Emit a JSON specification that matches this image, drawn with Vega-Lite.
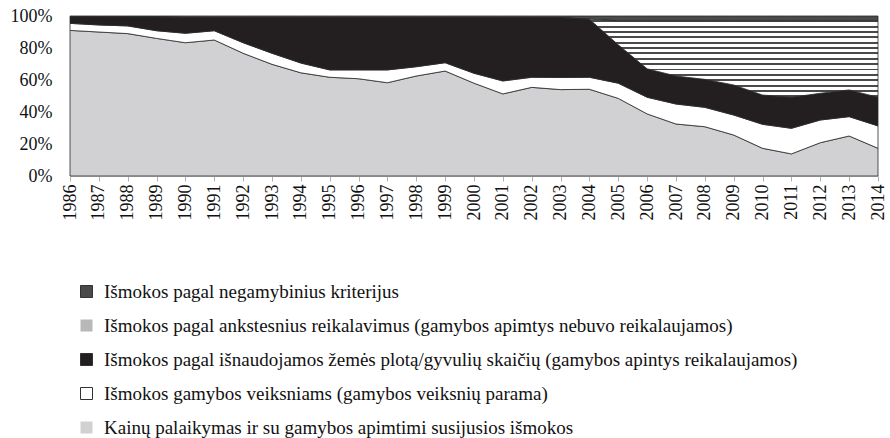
{
  "$schema": "https://vega.github.io/schema/vega-lite/v6.json",
  "width": 808,
  "height": 160,
  "autosize": {"type": "none"},
  "padding": {"left": 70, "top": 16, "right": 12, "bottom": 262},
  "background": "white",
  "config": {"view": {"stroke": null}, "font": "Liberation Serif"},
  "data": {"values": [
    {"year": 1986, "series": "Kainų palaikymas ir su gamybos apimtimi susijusios išmokos", "value": 91},
    {"year": 1986, "series": "Išmokos gamybos veiksniams (gamybos veiksnių parama)", "value": 4.4},
    {"year": 1986, "series": "Išmokos pagal išnaudojamos žemės plotą/gyvulių skaičių (gamybos apintys reikalaujamos)", "value": 4.1},
    {"year": 1986, "series": "Išmokos pagal ankstesnius reikalavimus (gamybos apimtys nebuvo reikalaujamos)", "value": 0},
    {"year": 1986, "series": "Išmokos pagal negamybinius kriterijus", "value": 0.5},
    {"year": 1987, "series": "Kainų palaikymas ir su gamybos apimtimi susijusios išmokos", "value": 90},
    {"year": 1987, "series": "Išmokos gamybos veiksniams (gamybos veiksnių parama)", "value": 4.4},
    {"year": 1987, "series": "Išmokos pagal išnaudojamos žemės plotą/gyvulių skaičių (gamybos apintys reikalaujamos)", "value": 5.1},
    {"year": 1987, "series": "Išmokos pagal ankstesnius reikalavimus (gamybos apimtys nebuvo reikalaujamos)", "value": 0},
    {"year": 1987, "series": "Išmokos pagal negamybinius kriterijus", "value": 0.5},
    {"year": 1988, "series": "Kainų palaikymas ir su gamybos apimtimi susijusios išmokos", "value": 89},
    {"year": 1988, "series": "Išmokos gamybos veiksniams (gamybos veiksnių parama)", "value": 4.8},
    {"year": 1988, "series": "Išmokos pagal išnaudojamos žemės plotą/gyvulių skaičių (gamybos apintys reikalaujamos)", "value": 5.7},
    {"year": 1988, "series": "Išmokos pagal ankstesnius reikalavimus (gamybos apimtys nebuvo reikalaujamos)", "value": 0},
    {"year": 1988, "series": "Išmokos pagal negamybinius kriterijus", "value": 0.5},
    {"year": 1989, "series": "Kainų palaikymas ir su gamybos apimtimi susijusios išmokos", "value": 86},
    {"year": 1989, "series": "Išmokos gamybos veiksniams (gamybos veiksnių parama)", "value": 4.8},
    {"year": 1989, "series": "Išmokos pagal išnaudojamos žemės plotą/gyvulių skaičių (gamybos apintys reikalaujamos)", "value": 8.7},
    {"year": 1989, "series": "Išmokos pagal ankstesnius reikalavimus (gamybos apimtys nebuvo reikalaujamos)", "value": 0},
    {"year": 1989, "series": "Išmokos pagal negamybinius kriterijus", "value": 0.5},
    {"year": 1990, "series": "Kainų palaikymas ir su gamybos apimtimi susijusios išmokos", "value": 83.3},
    {"year": 1990, "series": "Išmokos gamybos veiksniams (gamybos veiksnių parama)", "value": 5.9},
    {"year": 1990, "series": "Išmokos pagal išnaudojamos žemės plotą/gyvulių skaičių (gamybos apintys reikalaujamos)", "value": 9.8},
    {"year": 1990, "series": "Išmokos pagal ankstesnius reikalavimus (gamybos apimtys nebuvo reikalaujamos)", "value": 0},
    {"year": 1990, "series": "Išmokos pagal negamybinius kriterijus", "value": 1},
    {"year": 1991, "series": "Kainų palaikymas ir su gamybos apimtimi susijusios išmokos", "value": 85},
    {"year": 1991, "series": "Išmokos gamybos veiksniams (gamybos veiksnių parama)", "value": 5.8},
    {"year": 1991, "series": "Išmokos pagal išnaudojamos žemės plotą/gyvulių skaičių (gamybos apintys reikalaujamos)", "value": 8.2},
    {"year": 1991, "series": "Išmokos pagal ankstesnius reikalavimus (gamybos apimtys nebuvo reikalaujamos)", "value": 0},
    {"year": 1991, "series": "Išmokos pagal negamybinius kriterijus", "value": 1},
    {"year": 1992, "series": "Kainų palaikymas ir su gamybos apimtimi susijusios išmokos", "value": 76.7},
    {"year": 1992, "series": "Išmokos gamybos veiksniams (gamybos veiksnių parama)", "value": 6.6},
    {"year": 1992, "series": "Išmokos pagal išnaudojamos žemės plotą/gyvulių skaičių (gamybos apintys reikalaujamos)", "value": 15.7},
    {"year": 1992, "series": "Išmokos pagal ankstesnius reikalavimus (gamybos apimtys nebuvo reikalaujamos)", "value": 0},
    {"year": 1992, "series": "Išmokos pagal negamybinius kriterijus", "value": 1},
    {"year": 1993, "series": "Kainų palaikymas ir su gamybos apimtimi susijusios išmokos", "value": 69.8},
    {"year": 1993, "series": "Išmokos gamybos veiksniams (gamybos veiksnių parama)", "value": 6.9},
    {"year": 1993, "series": "Išmokos pagal išnaudojamos žemės plotą/gyvulių skaičių (gamybos apintys reikalaujamos)", "value": 22.3},
    {"year": 1993, "series": "Išmokos pagal ankstesnius reikalavimus (gamybos apimtys nebuvo reikalaujamos)", "value": 0},
    {"year": 1993, "series": "Išmokos pagal negamybinius kriterijus", "value": 1},
    {"year": 1994, "series": "Kainų palaikymas ir su gamybos apimtimi susijusios išmokos", "value": 64.5},
    {"year": 1994, "series": "Išmokos gamybos veiksniams (gamybos veiksnių parama)", "value": 6.1},
    {"year": 1994, "series": "Išmokos pagal išnaudojamos žemės plotą/gyvulių skaičių (gamybos apintys reikalaujamos)", "value": 28.4},
    {"year": 1994, "series": "Išmokos pagal ankstesnius reikalavimus (gamybos apimtys nebuvo reikalaujamos)", "value": 0},
    {"year": 1994, "series": "Išmokos pagal negamybinius kriterijus", "value": 1},
    {"year": 1995, "series": "Kainų palaikymas ir su gamybos apimtimi susijusios išmokos", "value": 61.7},
    {"year": 1995, "series": "Išmokos gamybos veiksniams (gamybos veiksnių parama)", "value": 4.6},
    {"year": 1995, "series": "Išmokos pagal išnaudojamos žemės plotą/gyvulių skaičių (gamybos apintys reikalaujamos)", "value": 32.7},
    {"year": 1995, "series": "Išmokos pagal ankstesnius reikalavimus (gamybos apimtys nebuvo reikalaujamos)", "value": 0},
    {"year": 1995, "series": "Išmokos pagal negamybinius kriterijus", "value": 1},
    {"year": 1996, "series": "Kainų palaikymas ir su gamybos apimtimi susijusios išmokos", "value": 60.8},
    {"year": 1996, "series": "Išmokos gamybos veiksniams (gamybos veiksnių parama)", "value": 5.5},
    {"year": 1996, "series": "Išmokos pagal išnaudojamos žemės plotą/gyvulių skaičių (gamybos apintys reikalaujamos)", "value": 32.7},
    {"year": 1996, "series": "Išmokos pagal ankstesnius reikalavimus (gamybos apimtys nebuvo reikalaujamos)", "value": 0},
    {"year": 1996, "series": "Išmokos pagal negamybinius kriterijus", "value": 1},
    {"year": 1997, "series": "Kainų palaikymas ir su gamybos apimtimi susijusios išmokos", "value": 58.3},
    {"year": 1997, "series": "Išmokos gamybos veiksniams (gamybos veiksnių parama)", "value": 8.0},
    {"year": 1997, "series": "Išmokos pagal išnaudojamos žemės plotą/gyvulių skaičių (gamybos apintys reikalaujamos)", "value": 32.7},
    {"year": 1997, "series": "Išmokos pagal ankstesnius reikalavimus (gamybos apimtys nebuvo reikalaujamos)", "value": 0},
    {"year": 1997, "series": "Išmokos pagal negamybinius kriterijus", "value": 1},
    {"year": 1998, "series": "Kainų palaikymas ir su gamybos apimtimi susijusios išmokos", "value": 62.5},
    {"year": 1998, "series": "Išmokos gamybos veiksniams (gamybos veiksnių parama)", "value": 5.8},
    {"year": 1998, "series": "Išmokos pagal išnaudojamos žemės plotą/gyvulių skaičių (gamybos apintys reikalaujamos)", "value": 30.7},
    {"year": 1998, "series": "Išmokos pagal ankstesnius reikalavimus (gamybos apimtys nebuvo reikalaujamos)", "value": 0},
    {"year": 1998, "series": "Išmokos pagal negamybinius kriterijus", "value": 1},
    {"year": 1999, "series": "Kainų palaikymas ir su gamybos apimtimi susijusios išmokos", "value": 65.6},
    {"year": 1999, "series": "Išmokos gamybos veiksniams (gamybos veiksnių parama)", "value": 5.2},
    {"year": 1999, "series": "Išmokos pagal išnaudojamos žemės plotą/gyvulių skaičių (gamybos apintys reikalaujamos)", "value": 28.2},
    {"year": 1999, "series": "Išmokos pagal ankstesnius reikalavimus (gamybos apimtys nebuvo reikalaujamos)", "value": 0},
    {"year": 1999, "series": "Išmokos pagal negamybinius kriterijus", "value": 1},
    {"year": 2000, "series": "Kainų palaikymas ir su gamybos apimtimi susijusios išmokos", "value": 58},
    {"year": 2000, "series": "Išmokos gamybos veiksniams (gamybos veiksnių parama)", "value": 6.2},
    {"year": 2000, "series": "Išmokos pagal išnaudojamos žemės plotą/gyvulių skaičių (gamybos apintys reikalaujamos)", "value": 34.8},
    {"year": 2000, "series": "Išmokos pagal ankstesnius reikalavimus (gamybos apimtys nebuvo reikalaujamos)", "value": 0},
    {"year": 2000, "series": "Išmokos pagal negamybinius kriterijus", "value": 1},
    {"year": 2001, "series": "Kainų palaikymas ir su gamybos apimtimi susijusios išmokos", "value": 51.3},
    {"year": 2001, "series": "Išmokos gamybos veiksniams (gamybos veiksnių parama)", "value": 8.1},
    {"year": 2001, "series": "Išmokos pagal išnaudojamos žemės plotą/gyvulių skaičių (gamybos apintys reikalaujamos)", "value": 39.6},
    {"year": 2001, "series": "Išmokos pagal ankstesnius reikalavimus (gamybos apimtys nebuvo reikalaujamos)", "value": 0},
    {"year": 2001, "series": "Išmokos pagal negamybinius kriterijus", "value": 1},
    {"year": 2002, "series": "Kainų palaikymas ir su gamybos apimtimi susijusios išmokos", "value": 55.4},
    {"year": 2002, "series": "Išmokos gamybos veiksniams (gamybos veiksnių parama)", "value": 6.3},
    {"year": 2002, "series": "Išmokos pagal išnaudojamos žemės plotą/gyvulių skaičių (gamybos apintys reikalaujamos)", "value": 37.3},
    {"year": 2002, "series": "Išmokos pagal ankstesnius reikalavimus (gamybos apimtys nebuvo reikalaujamos)", "value": 0},
    {"year": 2002, "series": "Išmokos pagal negamybinius kriterijus", "value": 1},
    {"year": 2003, "series": "Kainų palaikymas ir su gamybos apimtimi susijusios išmokos", "value": 54},
    {"year": 2003, "series": "Išmokos gamybos veiksniams (gamybos veiksnių parama)", "value": 7.6},
    {"year": 2003, "series": "Išmokos pagal išnaudojamos žemės plotą/gyvulių skaičių (gamybos apintys reikalaujamos)", "value": 37.4},
    {"year": 2003, "series": "Išmokos pagal ankstesnius reikalavimus (gamybos apimtys nebuvo reikalaujamos)", "value": 0},
    {"year": 2003, "series": "Išmokos pagal negamybinius kriterijus", "value": 1},
    {"year": 2004, "series": "Kainų palaikymas ir su gamybos apimtimi susijusios išmokos", "value": 54.2},
    {"year": 2004, "series": "Išmokos gamybos veiksniams (gamybos veiksnių parama)", "value": 7.5},
    {"year": 2004, "series": "Išmokos pagal išnaudojamos žemės plotą/gyvulių skaičių (gamybos apintys reikalaujamos)", "value": 36.3},
    {"year": 2004, "series": "Išmokos pagal ankstesnius reikalavimus (gamybos apimtys nebuvo reikalaujamos)", "value": 0},
    {"year": 2004, "series": "Išmokos pagal negamybinius kriterijus", "value": 2},
    {"year": 2005, "series": "Kainų palaikymas ir su gamybos apimtimi susijusios išmokos", "value": 48.5},
    {"year": 2005, "series": "Išmokos gamybos veiksniams (gamybos veiksnių parama)", "value": 9.5},
    {"year": 2005, "series": "Išmokos pagal išnaudojamos žemės plotą/gyvulių skaičių (gamybos apintys reikalaujamos)", "value": 24},
    {"year": 2005, "series": "Išmokos pagal ankstesnius reikalavimus (gamybos apimtys nebuvo reikalaujamos)", "value": 15},
    {"year": 2005, "series": "Išmokos pagal negamybinius kriterijus", "value": 3},
    {"year": 2006, "series": "Kainų palaikymas ir su gamybos apimtimi susijusios išmokos", "value": 38.8},
    {"year": 2006, "series": "Išmokos gamybos veiksniams (gamybos veiksnių parama)", "value": 10.4},
    {"year": 2006, "series": "Išmokos pagal išnaudojamos žemės plotą/gyvulių skaičių (gamybos apintys reikalaujamos)", "value": 17.8},
    {"year": 2006, "series": "Išmokos pagal ankstesnius reikalavimus (gamybos apimtys nebuvo reikalaujamos)", "value": 30},
    {"year": 2006, "series": "Išmokos pagal negamybinius kriterijus", "value": 3},
    {"year": 2007, "series": "Kainų palaikymas ir su gamybos apimtimi susijusios išmokos", "value": 32.5},
    {"year": 2007, "series": "Išmokos gamybos veiksniams (gamybos veiksnių parama)", "value": 12.5},
    {"year": 2007, "series": "Išmokos pagal išnaudojamos žemės plotą/gyvulių skaičių (gamybos apintys reikalaujamos)", "value": 17.5},
    {"year": 2007, "series": "Išmokos pagal ankstesnius reikalavimus (gamybos apimtys nebuvo reikalaujamos)", "value": 34.5},
    {"year": 2007, "series": "Išmokos pagal negamybinius kriterijus", "value": 3},
    {"year": 2008, "series": "Kainų palaikymas ir su gamybos apimtimi susijusios išmokos", "value": 30.8},
    {"year": 2008, "series": "Išmokos gamybos veiksniams (gamybos veiksnių parama)", "value": 12.1},
    {"year": 2008, "series": "Išmokos pagal išnaudojamos žemės plotą/gyvulių skaičių (gamybos apintys reikalaujamos)", "value": 17.5},
    {"year": 2008, "series": "Išmokos pagal ankstesnius reikalavimus (gamybos apimtys nebuvo reikalaujamos)", "value": 36.6},
    {"year": 2008, "series": "Išmokos pagal negamybinius kriterijus", "value": 3},
    {"year": 2009, "series": "Kainų palaikymas ir su gamybos apimtimi susijusios išmokos", "value": 25.6},
    {"year": 2009, "series": "Išmokos gamybos veiksniams (gamybos veiksnių parama)", "value": 12.5},
    {"year": 2009, "series": "Išmokos pagal išnaudojamos žemės plotą/gyvulių skaičių (gamybos apintys reikalaujamos)", "value": 18.8},
    {"year": 2009, "series": "Išmokos pagal ankstesnius reikalavimus (gamybos apimtys nebuvo reikalaujamos)", "value": 40.1},
    {"year": 2009, "series": "Išmokos pagal negamybinius kriterijus", "value": 3},
    {"year": 2010, "series": "Kainų palaikymas ir su gamybos apimtimi susijusios išmokos", "value": 17.3},
    {"year": 2010, "series": "Išmokos gamybos veiksniams (gamybos veiksnių parama)", "value": 15},
    {"year": 2010, "series": "Išmokos pagal išnaudojamos žemės plotą/gyvulių skaičių (gamybos apintys reikalaujamos)", "value": 18.3},
    {"year": 2010, "series": "Išmokos pagal ankstesnius reikalavimus (gamybos apimtys nebuvo reikalaujamos)", "value": 46.4},
    {"year": 2010, "series": "Išmokos pagal negamybinius kriterijus", "value": 3},
    {"year": 2011, "series": "Kainų palaikymas ir su gamybos apimtimi susijusios išmokos", "value": 13.8},
    {"year": 2011, "series": "Išmokos gamybos veiksniams (gamybos veiksnių parama)", "value": 16},
    {"year": 2011, "series": "Išmokos pagal išnaudojamos žemės plotą/gyvulių skaičių (gamybos apintys reikalaujamos)", "value": 19.4},
    {"year": 2011, "series": "Išmokos pagal ankstesnius reikalavimus (gamybos apimtys nebuvo reikalaujamos)", "value": 47.8},
    {"year": 2011, "series": "Išmokos pagal negamybinius kriterijus", "value": 3},
    {"year": 2012, "series": "Kainų palaikymas ir su gamybos apimtimi susijusios išmokos", "value": 20.8},
    {"year": 2012, "series": "Išmokos gamybos veiksniams (gamybos veiksnių parama)", "value": 14.2},
    {"year": 2012, "series": "Išmokos pagal išnaudojamos žemės plotą/gyvulių skaičių (gamybos apintys reikalaujamos)", "value": 16.7},
    {"year": 2012, "series": "Išmokos pagal ankstesnius reikalavimus (gamybos apimtys nebuvo reikalaujamos)", "value": 45.3},
    {"year": 2012, "series": "Išmokos pagal negamybinius kriterijus", "value": 3},
    {"year": 2013, "series": "Kainų palaikymas ir su gamybos apimtimi susijusios išmokos", "value": 25},
    {"year": 2013, "series": "Išmokos gamybos veiksniams (gamybos veiksnių parama)", "value": 12.1},
    {"year": 2013, "series": "Išmokos pagal išnaudojamos žemės plotą/gyvulių skaičių (gamybos apintys reikalaujamos)", "value": 16.7},
    {"year": 2013, "series": "Išmokos pagal ankstesnius reikalavimus (gamybos apimtys nebuvo reikalaujamos)", "value": 43.2},
    {"year": 2013, "series": "Išmokos pagal negamybinius kriterijus", "value": 3},
    {"year": 2014, "series": "Kainų palaikymas ir su gamybos apimtimi susijusios išmokos", "value": 17.3},
    {"year": 2014, "series": "Išmokos gamybos veiksniams (gamybos veiksnių parama)", "value": 14},
    {"year": 2014, "series": "Išmokos pagal išnaudojamos žemės plotą/gyvulių skaičių (gamybos apintys reikalaujamos)", "value": 17.9},
    {"year": 2014, "series": "Išmokos pagal ankstesnius reikalavimus (gamybos apimtys nebuvo reikalaujamos)", "value": 47.8},
    {"year": 2014, "series": "Išmokos pagal negamybinius kriterijus", "value": 3}
  ]},
  "transform": [
    {"calculate": "indexof(['Kainų palaikymas ir su gamybos apimtimi susijusios išmokos', 'Išmokos gamybos veiksniams (gamybos veiksnių parama)', 'Išmokos pagal išnaudojamos žemės plotą/gyvulių skaičių (gamybos apintys reikalaujamos)', 'Išmokos pagal ankstesnius reikalavimus (gamybos apimtys nebuvo reikalaujamos)', 'Išmokos pagal negamybinius kriterijus'], datum.series)", "as": "rank"},
    {"stack": "value", "groupby": ["year"], "sort": [{"field": "rank", "order": "ascending"}], "offset": "normalize", "as": ["v0", "v1"]}
  ],
  "encoding": {
    "x": {
      "field": "year", "type": "ordinal",
      "scale": {"type": "point", "padding": 0},
      "axis": {
        "title": null, "labelAngle": -90, "labelAlign": "right", "labelBaseline": "middle",
        "labelFont": "Liberation Serif", "labelFontSize": 18, "labelColor": "#111",
        "labelPadding": 3, "tickSize": 5, "tickColor": "#b0b0b0", "domainColor": "#c8c8c8", "grid": false
      }
    },
    "y": {
      "field": "v1", "type": "quantitative",
      "scale": {"domain": [0, 1]},
      "axis": {
        "title": null, "format": ".0%", "values": [0, 0.2, 0.4, 0.6, 0.8, 1],
        "labelFont": "Liberation Serif", "labelFontSize": 18, "labelColor": "#111",
        "labelPadding": 18, "ticks": false, "domain": false, "grid": false
      }
    },
    "y2": {"field": "v0"}
  },
  "layer": [
    {
      "transform": [{"filter": "datum.rank != 3"}],
      "mark": {"type": "area", "stroke": "#2a2a2a", "strokeWidth": 0.8, "opacity": 1},
      "encoding": {
        "color": {
          "field": "series", "type": "nominal",
          "scale": {
            "domain": [
              "Kainų palaikymas ir su gamybos apimtimi susijusios išmokos",
              "Išmokos gamybos veiksniams (gamybos veiksnių parama)",
              "Išmokos pagal išnaudojamos žemės plotą/gyvulių skaičių (gamybos apintys reikalaujamos)",
              "Išmokos pagal ankstesnius reikalavimus (gamybos apimtys nebuvo reikalaujamos)",
              "Išmokos pagal negamybinius kriterijus"
            ],
            "range": ["#d1d1d3", "#ffffff", "#231f20", "#b8b8b8", "#4a4a4a"]
          },
          "legend": {
            "title": null, "orient": "none", "legendX": 7, "legendY": 266, "direction": "vertical",
            "values": [
              "Išmokos pagal negamybinius kriterijus",
              "Išmokos pagal ankstesnius reikalavimus (gamybos apimtys nebuvo reikalaujamos)",
              "Išmokos pagal išnaudojamos žemės plotą/gyvulių skaičių (gamybos apintys reikalaujamos)",
              "Išmokos gamybos veiksniams (gamybos veiksnių parama)",
              "Kainų palaikymas ir su gamybos apimtimi susijusios išmokos"
            ],
            "symbolType": "square", "symbolSize": 144, "symbolStrokeColor": "#333", "symbolStrokeWidth": 1,
            "symbolOpacity": 1,
            "labelFont": "Liberation Serif", "labelFontSize": 19, "labelColor": "#111", "labelLimit": 0,
            "labelOffset": 8, "rowPadding": 14,
            "encode": {
              "symbols": {
                "update": {
                  "stroke": [
                    {"test": "datum.value === 'Išmokos pagal ankstesnius reikalavimus (gamybos apimtys nebuvo reikalaujamos)' || datum.value === 'Kainų palaikymas ir su gamybos apimtimi susijusios išmokos'", "value": "transparent"},
                    {"value": "#333333"}
                  ]
                }
              }
            }
          }
        }
      }
    },
    {
      "transform": [{"filter": "datum.rank == 3"}],
      "mark": {
        "type": "area", "stroke": "#2a2a2a", "strokeWidth": 0.8, "opacity": 1,
        "fill": {"gradient": "linear", "x1": 0, "y1": 0, "x2": 0, "y2": 1, "stops": [
          {"offset": 0, "color": "#ffffff"}, {"offset": 0.0433, "color": "#ffffff"}, {"offset": 0.0433, "color": "#4a4a4a"}, {"offset": 0.0667, "color": "#4a4a4a"},
          {"offset": 0.0667, "color": "#ffffff"}, {"offset": 0.11, "color": "#ffffff"}, {"offset": 0.11, "color": "#4a4a4a"}, {"offset": 0.1333, "color": "#4a4a4a"},
          {"offset": 0.1333, "color": "#ffffff"}, {"offset": 0.1767, "color": "#ffffff"}, {"offset": 0.1767, "color": "#4a4a4a"}, {"offset": 0.2, "color": "#4a4a4a"},
          {"offset": 0.2, "color": "#ffffff"}, {"offset": 0.2433, "color": "#ffffff"}, {"offset": 0.2433, "color": "#4a4a4a"}, {"offset": 0.2667, "color": "#4a4a4a"},
          {"offset": 0.2667, "color": "#ffffff"}, {"offset": 0.31, "color": "#ffffff"}, {"offset": 0.31, "color": "#4a4a4a"}, {"offset": 0.3333, "color": "#4a4a4a"},
          {"offset": 0.3333, "color": "#ffffff"}, {"offset": 0.3767, "color": "#ffffff"}, {"offset": 0.3767, "color": "#4a4a4a"}, {"offset": 0.4, "color": "#4a4a4a"},
          {"offset": 0.4, "color": "#ffffff"}, {"offset": 0.4433, "color": "#ffffff"}, {"offset": 0.4433, "color": "#4a4a4a"}, {"offset": 0.4667, "color": "#4a4a4a"},
          {"offset": 0.4667, "color": "#ffffff"}, {"offset": 0.51, "color": "#ffffff"}, {"offset": 0.51, "color": "#4a4a4a"}, {"offset": 0.5333, "color": "#4a4a4a"},
          {"offset": 0.5333, "color": "#ffffff"}, {"offset": 0.5767, "color": "#ffffff"}, {"offset": 0.5767, "color": "#4a4a4a"}, {"offset": 0.6, "color": "#4a4a4a"},
          {"offset": 0.6, "color": "#ffffff"}, {"offset": 0.6433, "color": "#ffffff"}, {"offset": 0.6433, "color": "#4a4a4a"}, {"offset": 0.6667, "color": "#4a4a4a"},
          {"offset": 0.6667, "color": "#ffffff"}, {"offset": 0.71, "color": "#ffffff"}, {"offset": 0.71, "color": "#4a4a4a"}, {"offset": 0.7333, "color": "#4a4a4a"},
          {"offset": 0.7333, "color": "#ffffff"}, {"offset": 0.7767, "color": "#ffffff"}, {"offset": 0.7767, "color": "#4a4a4a"}, {"offset": 0.8, "color": "#4a4a4a"},
          {"offset": 0.8, "color": "#ffffff"}, {"offset": 0.8433, "color": "#ffffff"}, {"offset": 0.8433, "color": "#4a4a4a"}, {"offset": 0.8667, "color": "#4a4a4a"},
          {"offset": 0.8667, "color": "#ffffff"}, {"offset": 0.91, "color": "#ffffff"}, {"offset": 0.91, "color": "#4a4a4a"}, {"offset": 0.9333, "color": "#4a4a4a"},
          {"offset": 0.9333, "color": "#ffffff"}, {"offset": 0.9767, "color": "#ffffff"}, {"offset": 0.9767, "color": "#4a4a4a"}, {"offset": 1, "color": "#4a4a4a"}
        ]}
      },
      "encoding": {}
    }
  ]
}
